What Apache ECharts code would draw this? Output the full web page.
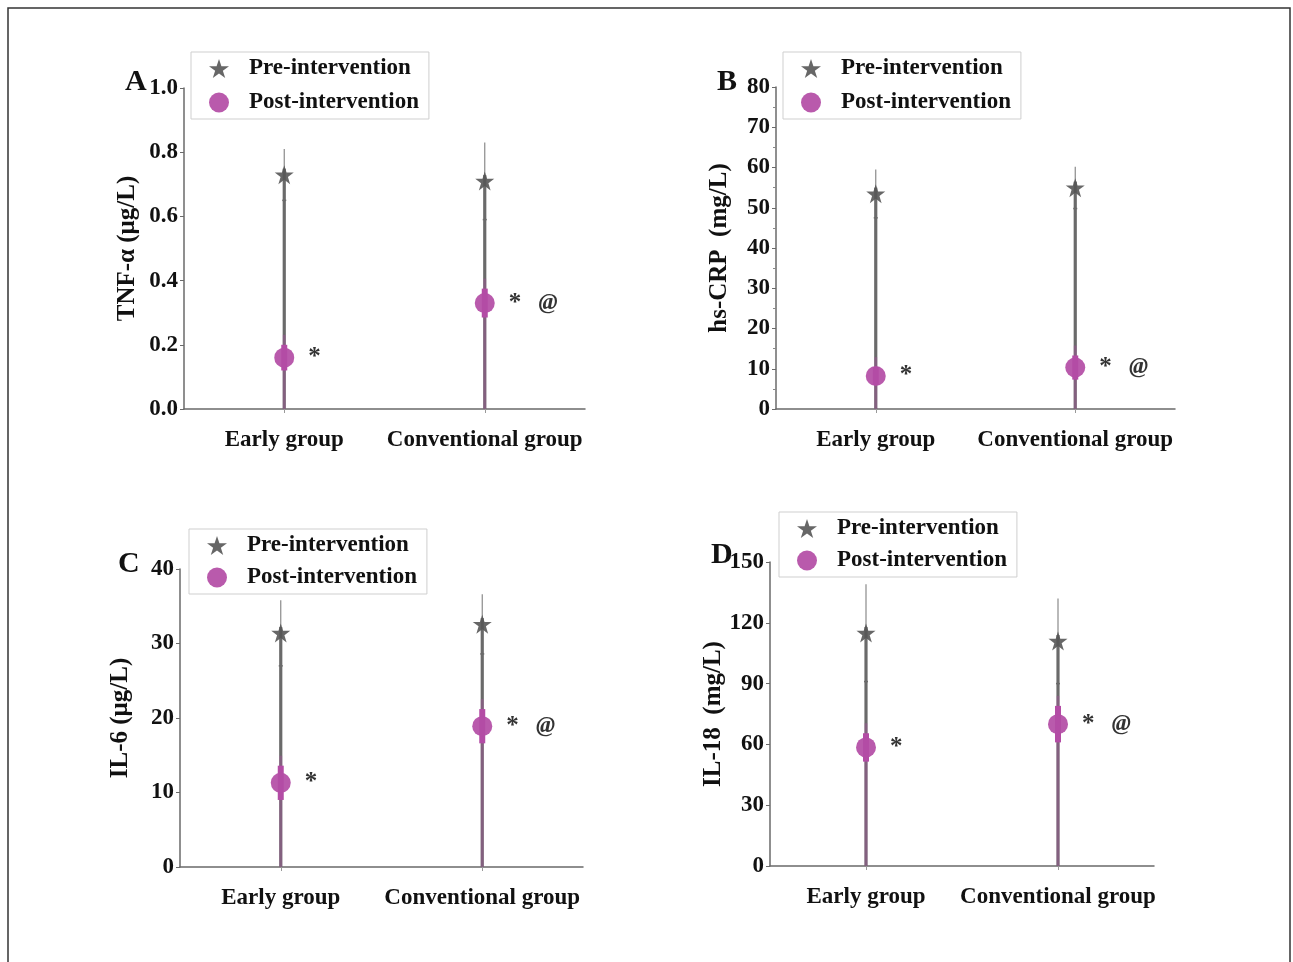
<!DOCTYPE html>
<html><head><meta charset="utf-8">
<script src="https://cdn.jsdelivr.net/npm/echarts@6/dist/echarts.min.js"></script>
<style>html,body{margin:0;padding:0;background:#fff;}#c{width:1293px;height:962px;}</style>
</head><body><div id="c"></div>
<script>
// ---- data ----
const categories = ['Early group', 'Conventional group'];
const seriesNames = ['Pre-intervention', 'Post-intervention'];

const preMeanA = [0.73, 0.71];  const preSdA = [0.08, 0.12];
const postMeanA = [0.16, 0.33]; const postSdA = [0.04, 0.045];

const preMeanB = [53.5, 55.0];  const preSdB = [6.0, 5.2];
const postMeanB = [8.2, 10.3];  const postSdB = [2.2, 3.0];

const preMeanC = [31.4, 32.6];  const preSdC = [4.4, 4.0];
const postMeanC = [11.3, 18.9]; const postSdC = [2.3, 2.3];

const preMeanD = [115, 111];    const preSdD = [24, 21];
const postMeanD = [58.5, 70];   const postSdD = [7, 9];

const annotations = ['{s|*}', '{s|*}   {a|@}'];

const yAxisNames = ['TNF-α (μg/L)', 'hs-CRP  (mg/L)', 'IL-6 (μg/L)', 'IL-18  (mg/L)'];
const panelLetters = ['A', 'B', 'C', 'D'];
const yScales = [
  {min: 0, max: 1.0, interval: 0.2, digits: 1},
  {min: 0, max: 80, interval: 10, digits: 0},
  {min: 0, max: 40, interval: 10, digits: 0},
  {min: 0, max: 150, interval: 30, digits: 0}
];

// ---- layout / style ----
const FONT = '"Liberation Serif", "DejaVu Serif", serif';
const GREY = '#6a6a6a';
const STAR = '#575757';
const MAG = '#b34ca5';
const starPath = 'path://M50,0 L61.8,35.3 L98.9,35.3 L68.9,57.1 L80.3,92.4 L50,70.6 L19.7,92.4 L31.1,57.1 L1.1,35.3 L38.2,35.3 Z';

const panels = [
  {pre: preMeanA, preSd: preSdA, post: postMeanA, postSd: postSdA,
   grid: {left: 184, top: 88, width: 401, height: 321}, legend: {left: 191, top: 52, gap: 11}, nameGap: 44, letter: {left: 120, top: 62}},
  {pre: preMeanB, preSd: preSdB, post: postMeanB, postSd: postSdB,
   grid: {left: 776, top: 87, width: 399, height: 322}, legend: {left: 783, top: 52, gap: 11}, nameGap: 44, letter: {left: 712, top: 62}, minor: true},
  {pre: preMeanC, preSd: preSdC, post: postMeanC, postSd: postSdC,
   grid: {left: 180, top: 569, width: 403, height: 298}, legend: {left: 189, top: 529, gap: 9}, nameGap: 47, letter: {left: 113, top: 544}},
  {pre: preMeanD, preSd: preSdD, post: postMeanD, postSd: postSdD,
   grid: {left: 770, top: 562, width: 384, height: 304}, legend: {left: 779, top: 512, gap: 9}, nameGap: 40, letter: {left: 706, top: 535}}
];

const grid = [], xAxis = [], yAxis = [], series = [], legend = [], title = [];

panels.forEach((p, k) => {
  grid.push(p.grid);
  xAxis.push({
    type: 'category', gridIndex: k, data: categories, boundaryGap: true,
    axisLine: {lineStyle: {color: GREY, width: 1.5}},
    axisTick: {show: true, alignWithLabel: true, length: 4, lineStyle: {color: '#999'}},
    axisLabel: {interval: 0, color: '#111', fontFamily: FONT, fontWeight: 'bold', fontSize: 23, margin: 20},
    splitLine: {show: false}
  });
  const sc = yScales[k];
  yAxis.push({
    type: 'value', gridIndex: k, min: sc.min, max: sc.max, interval: sc.interval,
    name: yAxisNames[k], nameLocation: 'middle', nameGap: p.nameGap,
    nameTextStyle: {color: '#111', fontFamily: FONT, fontWeight: 'bold', fontSize: 25},
    axisLine: {show: true, lineStyle: {color: GREY, width: 1.5}},
    axisTick: {show: true, inside: false, length: 4, lineStyle: {color: GREY}},
    minorTick: {show: !!p.minor, splitNumber: 2, length: 3, lineStyle: {color: '#888'}},
    axisLabel: {color: '#111', fontFamily: FONT, fontWeight: 'bold', fontSize: 23, margin: 6,
      formatter: v => v.toFixed(sc.digits)},
    splitLine: {show: false}
  });

  // error bars / stems
  const barData = categories.map((c, i) => [i, p.pre[i], p.preSd[i], p.post[i], p.postSd[i]]);
  series.push({
    type: 'custom', xAxisIndex: k, yAxisIndex: k, z: 1, silent: true,
    data: barData,
    renderItem: (params, api) => {
      const i = api.value(0);
      const pre = api.value(1), preSd = api.value(2), post = api.value(3), postSd = api.value(4);
      const base = api.coord([i, 0]);
      const pTop = api.coord([i, pre + preSd]);
      const pMean = api.coord([i, pre]);
      const pLow = api.coord([i, pre - preSd]);
      const qTop = api.coord([i, post + postSd]);
      const qLow = api.coord([i, post - postSd]);
      const x = base[0];
      return {type: 'group', children: [
        {type: 'line', shape: {x1: x, y1: base[1], x2: x, y2: pTop[1]}, style: {stroke: '#8a8a8a', lineWidth: 1.2}},
        {type: 'line', shape: {x1: x, y1: base[1], x2: x, y2: pMean[1] - 6}, style: {stroke: GREY, lineWidth: 3.2}},
        {type: 'line', shape: {x1: x - 2, y1: pLow[1], x2: x + 2, y2: pLow[1]}, style: {stroke: GREY, lineWidth: 1.5}},
        {type: 'line', shape: {x1: x, y1: base[1], x2: x, y2: qTop[1] - 10}, style: {stroke: MAG, lineWidth: 3, opacity: 0.35}},
        {type: 'line', shape: {x1: x, y1: qLow[1], x2: x, y2: qTop[1]}, style: {stroke: MAG, lineWidth: 6}}
      ]};
    }
  });

  series.push({
    type: 'scatter', name: seriesNames[0], xAxisIndex: k, yAxisIndex: k, z: 3,
    symbol: starPath, symbolSize: 19,
    itemStyle: {color: STAR, opacity: 0.9},
    data: p.pre
  });
  series.push({
    type: 'scatter', name: seriesNames[1], xAxisIndex: k, yAxisIndex: k, z: 4,
    symbol: 'circle', symbolSize: 20,
    itemStyle: {color: MAG, opacity: 0.92},
    label: {show: true, position: 'right', distance: 14, color: '#222',
      fontFamily: FONT, fontWeight: 'bold', fontSize: 23,
      formatter: prm => annotations[prm.dataIndex],
      rich: {
        s: {fontFamily: FONT, fontWeight: 'bold', fontSize: 25, color: '#222'},
        a: {fontFamily: FONT, fontWeight: 'bold', fontStyle: 'italic', fontSize: 23, color: '#222'}
      }},
    data: p.post
  });

  legend.push({
    left: p.legend.left, top: p.legend.top, orient: 'vertical',
    data: [{name: seriesNames[0], icon: starPath}, {name: seriesNames[1], icon: 'circle'}],
    itemWidth: 20, itemHeight: 20, itemGap: p.legend.gap,
    padding: [5, 10, 5, 18],
    borderColor: '#cfcfcf', borderWidth: 1, backgroundColor: '#fff',
    selectedMode: false,
    textStyle: {color: '#111', fontFamily: FONT, fontWeight: 'bold', fontSize: 23, padding: [0, 0, 0, 15]}
  });

  title.push({
    text: panelLetters[k], left: p.letter.left, top: p.letter.top,
    textStyle: {color: '#111', fontFamily: FONT, fontWeight: 'bold', fontSize: 30}
  });
});

const chart = echarts.init(document.getElementById('c'), null, {renderer: 'canvas'});
chart.setOption({
  backgroundColor: '#fff',
  animation: false,
  title, grid, xAxis, yAxis, series, legend,
  graphic: [{type: 'rect', shape: {x: 8, y: 8, width: 1282, height: 990}, style: {fill: 'none', stroke: '#333', lineWidth: 1.5}, silent: true}]
});
</script></body></html>
